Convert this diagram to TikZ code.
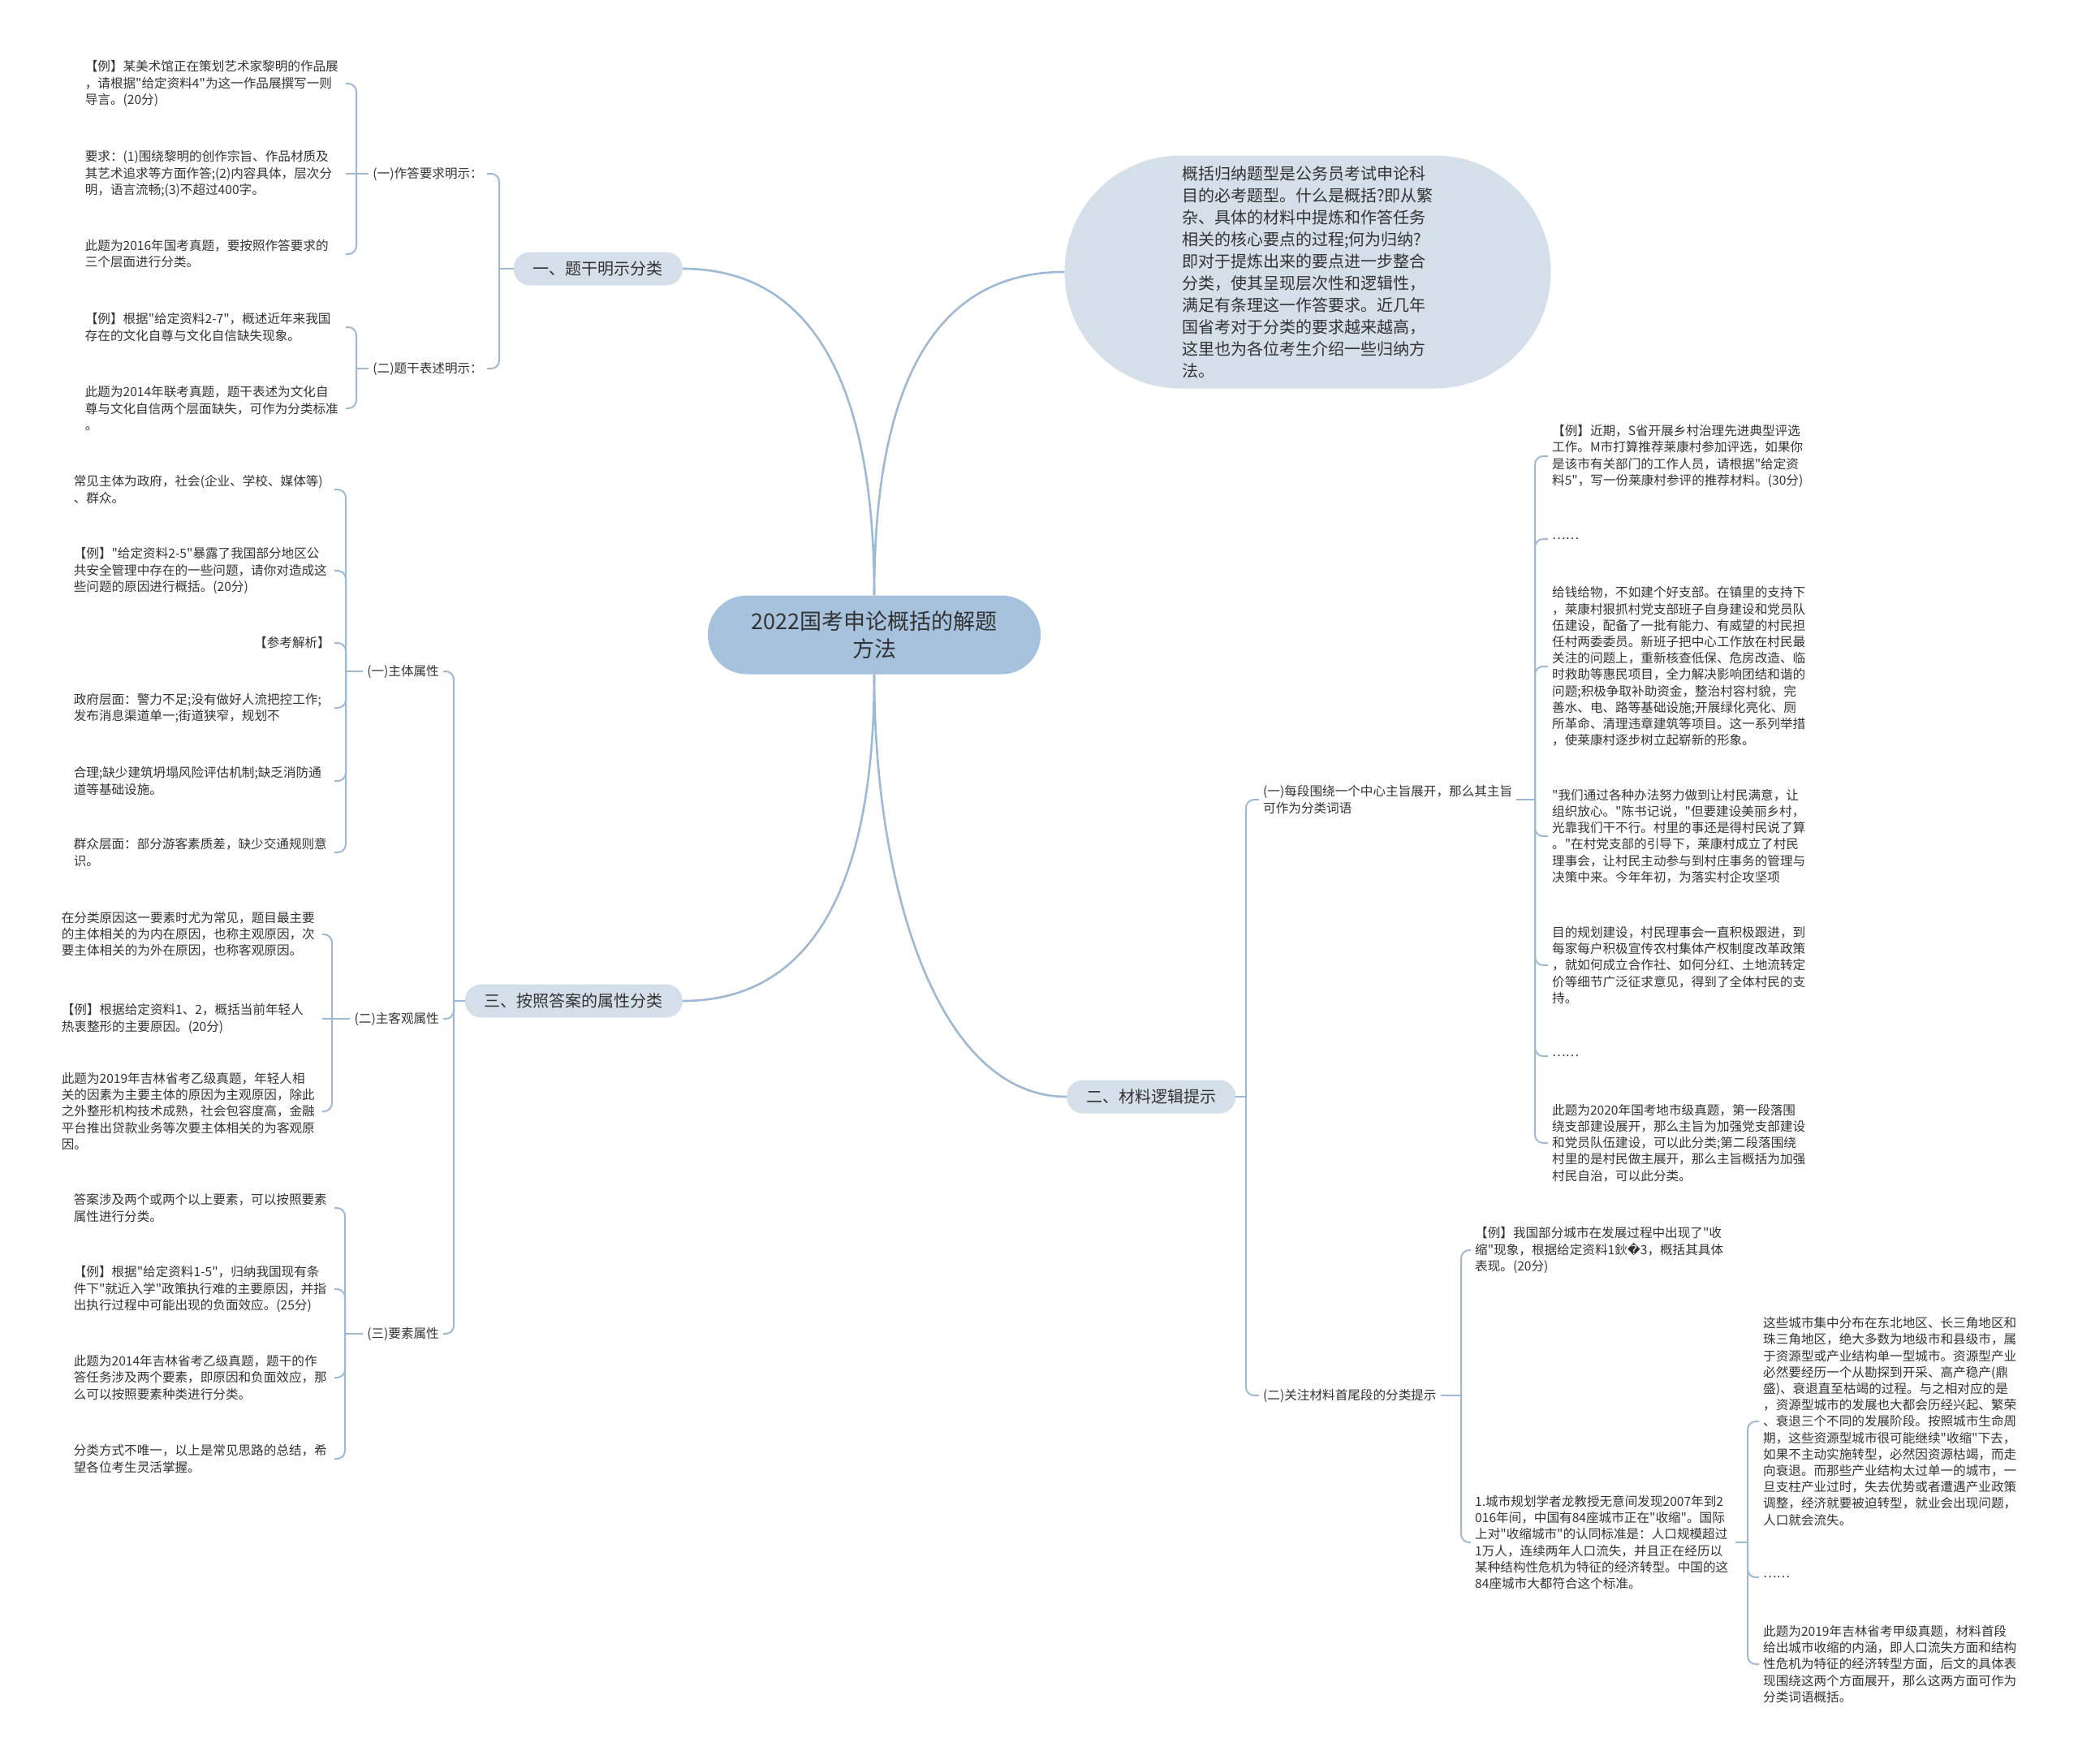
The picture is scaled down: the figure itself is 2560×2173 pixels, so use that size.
\documentclass[tikz,border=0pt]{standalone}
\usepackage{fontspec}
\newfontfamily\cjk{Noto Sans CJK SC}
\newfontfamily\symfont{DejaVu Sans}
\definecolor{LinkBlue}{HTML}{9DB9D3}
\definecolor{RootBlue}{HTML}{A6C2DC}
\definecolor{PaleBlue}{HTML}{D4DFE9}
\definecolor{InkGray}{HTML}{333333}

\begin{document}
\begin{tikzpicture}[x=1pt,y=-1pt,
  every node/.style={text=InkGray,inner xsep=5pt,inner ysep=2pt},
  link/.style={draw=LinkBlue,line width=2pt,rounded corners=10pt},
  mainlink/.style={draw=LinkBlue,line width=2.6pt},
  rootbox/.style={fill=RootBlue,rounded corners=48pt,minimum width=410pt,
    minimum height=97pt,align=center,font=\cjk\fontsize{27}{34}\selectfont},
  bubble/.style={fill=PaleBlue,rounded corners=143pt,minimum width=599pt,
    minimum height=287pt,align=left,font=\cjk\fontsize{20}{27}\selectfont},
  pill/.style={fill=PaleBlue,rounded corners=20pt,minimum height=41pt,
    inner xsep=24pt,font=\cjk\fontsize{20}{24}\selectfont},
  topic/.style={align=left,font=\cjk\fontsize{15.6}{20.2}\selectfont},
  lnote/.style={topic,anchor=east,text width=316pt},
  rnote/.style={topic,anchor=west,text width=316pt}]
  \useasboundingbox (0,0) rectangle (2560,2173);

  \node[rootbox] (root) at (1077,782) {2022国考申论概括的解题\\方法};
  \node[bubble] (intro) at (1611,335) {概括归纳题型是公务员考试申论科\\目的必考题型。什么是概括?即从繁\\杂、具体的材料中提炼和作答任务\\相关的核心要点的过程;何为归纳?\\即对于提炼出来的要点进一步整合\\分类，使其呈现层次性和逻辑性，\\满足有条理这一作答要求。近几年\\国省考对于分类的要求越来越高，\\这里也为各位考生介绍一些归纳方\\法。};
  \node[pill,anchor=east] (b1) at (841,331) {一、题干明示分类};
  \node[pill,anchor=east] (b3) at (841,1233) {三、按照答案的属性分类};
  \node[pill,anchor=west] (b2) at (1314,1351) {二、材料逻辑提示};
  \draw[mainlink] (root.north) .. controls +(0,-260) and +(160,0) .. (b1.east);
  \draw[mainlink] (root.north) .. controls +(0,-260) and +(-160,0) .. (intro.west);
  \draw[mainlink] (root.south) .. controls +(0,260) and +(160,0) .. (b3.east);
  \draw[mainlink] (root.south) .. controls +(0,260) and +(-160,0) .. (b2.west);

  \node[topic,anchor=east] (s1) at (600,214) {(一)作答要求明示：};
  \node[topic,anchor=east] (s2) at (600,454) {(二)题干表述明示：};
  \coordinate (j1) at (615,331);
  \draw[link] (b1.west) -- (j1);
  \foreach \n in {s1,s2} {\draw[link] (j1) |- (\n.east);}

  \node[lnote] (a1) at (426,103) {【例】某美术馆正在策划艺术家黎明的作品展\\，请根据"给定资料4"为这一作品展撰写一则\\导言。(20分)};
  \node[lnote] (a2) at (426,214) {要求：(1)围绕黎明的创作宗旨、作品材质及\\其艺术追求等方面作答;(2)内容具体，层次分\\明，语言流畅;(3)不超过400字。};
  \node[lnote] (a3) at (426,313) {此题为2016年国考真题，要按照作答要求的\\三个层面进行分类。};
  \coordinate (ja) at (439,214);
  \draw[link] (s1.west) -- (ja) -- (a2.east);
  \foreach \n in {a1,a3} {\draw[link] (ja) |- (\n.east);}

  \node[lnote] (c1) at (426,403) {【例】根据"给定资料2-7"，概述近年来我国\\存在的文化自尊与文化自信缺失现象。};
  \node[lnote] (c2) at (426,503) {此题为2014年联考真题，题干表述为文化自\\尊与文化自信两个层面缺失，可作为分类标准\\。};
  \coordinate (jc) at (439,454);
  \draw[link] (s2.west) -- (jc);
  \foreach \n in {c1,c2} {\draw[link] (jc) |- (\n.east);}

  \node[topic,anchor=east] (m1) at (546,827) {(一)主体属性};
  \node[topic,anchor=east] (m2) at (546,1255) {(二)主客观属性};
  \node[topic,anchor=east] (m3) at (546,1643) {(三)要素属性};
  \coordinate (j3) at (559,1233);
  \draw[link] (b3.west) -- (j3);
  \foreach \n in {m1,m2,m3} {\draw[link] (j3) |- (\n.east);}

  \node[lnote] (p1) at (412,603) {常见主体为政府，社会(企业、学校、媒体等)\\、群众。};
  \node[lnote] (p2) at (412,703) {【例】"给定资料2-5"暴露了我国部分地区公\\共安全管理中存在的一些问题，请你对造成这\\些问题的原因进行概括。(20分)};
  \node[lnote,align=right] (p3) at (412,792) {【参考解析】};
  \node[lnote] (p4) at (412,872) {政府层面：警力不足;没有做好人流把控工作;\\发布消息渠道单一;街道狭窄，规划不};
  \node[lnote] (p5) at (412,962) {合理;缺少建筑坍塌风险评估机制;缺乏消防通\\道等基础设施。};
  \node[lnote] (p6) at (412,1050) {群众层面：部分游客素质差，缺少交通规则意\\识。};
  \coordinate (jp) at (426,827);
  \draw[link] (m1.west) -- (jp);
  \foreach \n in {p1,p2,p3,p4,p5,p6} {\draw[link] (jp) |- (\n.east);}

  \node[lnote] (q1) at (397,1151) {在分类原因这一要素时尤为常见，题目最主要\\的主体相关的为内在原因，也称主观原因，次\\要主体相关的为外在原因，也称客观原因。};
  \node[lnote] (q2) at (397,1255) {【例】根据给定资料1、2，概括当前年轻人\\热衷整形的主要原因。(20分)};
  \node[lnote] (q3) at (397,1369) {此题为2019年吉林省考乙级真题，年轻人相\\关的因素为主要主体的原因为主观原因，除此\\之外整形机构技术成熟，社会包容度高，金融\\平台推出贷款业务等次要主体相关的为客观原\\因。};
  \coordinate (jq) at (409,1255);
  \draw[link] (m2.west) -- (jq) -- (q2.east);
  \foreach \n in {q1,q3} {\draw[link] (jq) |- (\n.east);}

  \node[lnote] (e1) at (412,1488) {答案涉及两个或两个以上要素，可以按照要素\\属性进行分类。};
  \node[lnote] (e2) at (412,1588) {【例】根据"给定资料1-5"，归纳我国现有条\\件下"就近入学"政策执行难的主要原因，并指\\出执行过程中可能出现的负面效应。(25分)};
  \node[lnote] (e3) at (412,1697) {此题为2014年吉林省考乙级真题，题干的作\\答任务涉及两个要素，即原因和负面效应，那\\么可以按照要素种类进行分类。};
  \node[lnote] (e4) at (412,1797) {分类方式不唯一，以上是常见思路的总结，希\\望各位考生灵活掌握。};
  \coordinate (je) at (425,1643);
  \draw[link] (m3.west) -- (je);
  \foreach \n in {e1,e2,e3,e4} {\draw[link] (je) |- (\n.east);}

  \node[topic,anchor=west] (r1) at (1551,985) {(一)每段围绕一个中心主旨展开，那么其主旨\\可作为分类词语};
  \node[topic,anchor=west] (r2) at (1551,1719) {(二)关注材料首尾段的分类提示};
  \coordinate (j2) at (1535,1351);
  \draw[link] (b2.east) -- (j2);
  \foreach \n in {r1,r2} {\draw[link] (j2) |- (\n.west);}

  \node[rnote] (f1) at (1907,562) {【例】近期，S省开展乡村治理先进典型评选\\工作。M市打算推荐莱康村参加评选，如果你\\是该市有关部门的工作人员，请根据"给定资\\料5"，写一份莱康村参评的推荐材料。(30分)};
  \node[rnote] (f2) at (1907,664) {……};
  \node[rnote] (f3) at (1907,821) {给钱给物，不如建个好支部。在镇里的支持下\\，莱康村狠抓村党支部班子自身建设和党员队\\伍建设，配备了一批有能力、有威望的村民担\\任村两委委员。新班子把中心工作放在村民最\\关注的问题上，重新核查低保、危房改造、临\\时救助等惠民项目，全力解决影响团结和谐的\\问题;积极争取补助资金，整治村容村貌，完\\善水、电、路等基础设施;开展绿化亮化、厕\\所革命、清理违章建筑等项目。这一系列举措\\，使莱康村逐步树立起崭新的形象。};
  \node[rnote] (f4) at (1907,1030) {"我们通过各种办法努力做到让村民满意，让\\组织放心。"陈书记说，"但要建设美丽乡村，\\光靠我们干不行。村里的事还是得村民说了算\\。"在村党支部的引导下，莱康村成立了村民\\理事会，让村民主动参与到村庄事务的管理与\\决策中来。今年年初，为落实村企攻坚项};
  \node[rnote] (f5) at (1907,1189) {目的规划建设，村民理事会一直积极跟进，到\\每家每户积极宣传农村集体产权制度改革政策\\，就如何成立合作社、如何分红、土地流转定\\价等细节广泛征求意见，得到了全体村民的支\\持。};
  \node[rnote] (f6) at (1907,1301) {……};
  \node[rnote] (f7) at (1907,1408) {此题为2020年国考地市级真题，第一段落围\\绕支部建设展开，那么主旨为加强党支部建设\\和党员队伍建设，可以此分类;第二段落围绕\\村里的是村民做主展开，那么主旨概括为加强\\村民自治，可以此分类。};
  \coordinate (jf) at (1891,985);
  \draw[link] (r1.east) -- (jf);
  \foreach \n in {f1,f2,f3,f4,f5,f6,f7} {\draw[link] (jf) |- (\n.west);}

  \node[rnote] (g1) at (1812,1540) {【例】我国部分城市在发展过程中出现了"收\\缩"现象，根据给定资料1鈥{\symfont\char"FFFD}3，概括其具体\\表现。(20分)};
  \node[rnote] (g2) at (1812,1900) {1.城市规划学者龙教授无意间发现2007年到2\\016年间，中国有84座城市正在"收缩"。国际\\上对"收缩城市"的认同标准是：人口规模超过\\1万人，连续两年人口流失，并且正在经历以\\某种结构性危机为特征的经济转型。中国的这\\84座城市大都符合这个标准。};
  \coordinate (jg) at (1800,1719);
  \draw[link] (r2.east) -- (jg);
  \foreach \n in {g1,g2} {\draw[link] (jg) |- (\n.west);}

  \node[rnote] (h1) at (2167,1751) {这些城市集中分布在东北地区、长三角地区和\\珠三角地区，绝大多数为地级市和县级市，属\\于资源型或产业结构单一型城市。资源型产业\\必然要经历一个从勘探到开采、高产稳产(鼎\\盛)、衰退直至枯竭的过程。与之相对应的是\\，资源型城市的发展也大都会历经兴起、繁荣\\、衰退三个不同的发展阶段。按照城市生命周\\期，这些资源型城市很可能继续"收缩"下去，\\如果不主动实施转型，必然因资源枯竭，而走\\向衰退。而那些产业结构太过单一的城市，一\\旦支柱产业过时，失去优势或者遭遇产业政策\\调整，经济就要被迫转型，就业会出现问题，\\人口就会流失。};
  \node[rnote] (h2) at (2167,1943) {……};
  \node[rnote] (h3) at (2167,2050) {此题为2019年吉林省考甲级真题，材料首段\\给出城市收缩的内涵，即人口流失方面和结构\\性危机为特征的经济转型方面，后文的具体表\\现围绕这两个方面展开，那么这两方面可作为\\分类词语概括。};
  \coordinate (jh) at (2153,1900);
  \draw[link] (g2.east) -- (jh);
  \foreach \n in {h1,h2,h3} {\draw[link] (jh) |- (\n.west);}
\end{tikzpicture}
\end{document}
